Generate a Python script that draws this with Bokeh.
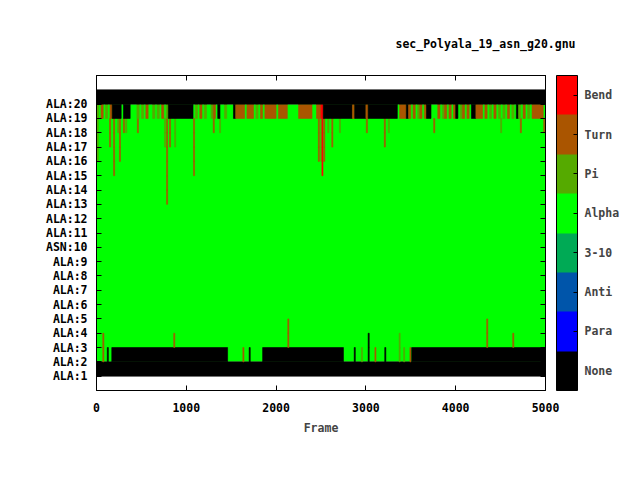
import numpy as np
from bokeh.plotting import figure
from bokeh.models import (ColumnDataSource, LinearColorMapper, ColorBar, FixedTicker,
                          LinearAxis, Range1d, CustomLabelingPolicy)
from bokeh.embed import file_html
from bokeh.resources import INLINE

# ---------------- data ----------------
residues = ["ALA:1", "ALA:2", "ALA:3", "ALA:4", "ALA:5", "ALA:6", "ALA:7", "ALA:8", "ALA:9",
            "ASN:10", "ALA:11", "ALA:12", "ALA:13", "ALA:14", "ALA:15", "ALA:16", "ALA:17",
            "ALA:18", "ALA:19", "ALA:20"]
state_names = ["None", "Para", "Anti", "3-10", "Alpha", "Pi", "Turn", "Bend"]
state_colors = ["#000000", "#0000FF", "#0055AA", "#00AA55", "#00FF00", "#55AA00", "#AA5500", "#FF0000"]
code_map = {"N": 0, "A": 4, "P": 5, "T": 6, "B": 7}
x_ticks = [0, 1000, 2000, 3000, 4000, 5000]
n_frames = 5000

# residues that are always "None"
always_none = [1, 20]
# residue 2: frames in state None (rest Alpha)
row2_none_segments = [(170, 1460), (1850, 2750), (3510, 5000)]
# residue 19: state per 25-frame bin, read left to right
row19_pieces = ["PATAPAT", "NNNNANNN", "AAA", "PAPATAAPAPATAP", "NNNNNNNNNNN", "APATAPAAPTA",
                "N", "AAPAAAN", "TTTTAT", "TTAPATA", "TTTTTATTT", "TA", "AAAA", "TTTTTT", "AA",
                "TTB", "NNNNNNNNNNNNN", "T", "NNNNN", "T", "NNNNNNNNNNNNN",
                "ATTT", "NTATAPTAT", "NN", "AAATAPTA", "TATNAPTATA", "NNT", "TTA",
                "TAPATAPAPAT", "APANPATAPA", "TTTTTA"]
# short events: (frame, first residue, last residue, state)
events = [
    (8, 16, 18, "P"), (145, 17, 18, "T"), (190, 15, 18, "T"), (235, 18, 18, "P"),
    (255, 16, 18, "T"), (300, 18, 18, "T"), (325, 18, 18, "P"), (455, 18, 18, "T"),
    (757, 17, 18, "P"), (780, 13, 18, "T"), (813, 17, 18, "T"), (870, 17, 18, "P"),
    (1080, 15, 18, "T"), (1300, 18, 18, "T"), (1370, 18, 18, "P"),
    (2470, 16, 18, "T"), (2495, 16, 18, "P"), (2510, 15, 18, "B"), (2530, 16, 18, "T"),
    (2575, 18, 18, "P"), (2620, 17, 18, "T"), (2705, 18, 18, "P"), (3005, 18, 18, "T"),
    (3205, 17, 18, "T"), (3250, 18, 18, "P"), (3755, 18, 18, "T"), (4500, 18, 18, "P"),
    (4720, 18, 18, "T"), (4980, 18, 18, "T"),
    (70, 2, 3, "T"), (860, 3, 3, "T"), (2130, 3, 4, "T"), (3025, 2, 3, "N"),
    (3370, 2, 3, "P"), (4345, 3, 4, "T"), (4635, 3, 3, "T"),
    (120, 2, 2, "N"), (1630, 2, 2, "T"), (1700, 2, 2, "N"), (2870, 2, 2, "N"),
    (2950, 2, 2, "P"), (3100, 2, 2, "T"), (3210, 2, 2, "N"), (3420, 2, 2, "P"),
    (3490, 2, 2, "T"),
]
event_width = 12

# ---------------- build grid ----------------
grid = np.full((len(residues), n_frames), 4, dtype=int)
for r in always_none:
    grid[r - 1, :] = 0
for s, e in row2_none_segments:
    grid[1, s:e] = 0
row19 = "".join(row19_pieces)
bin_w = n_frames / len(row19)
for i, c in enumerate(row19):
    grid[18, int(round(i * bin_w)):int(round((i + 1) * bin_w))] = code_map[c]
for f, r0, r1, c in events:
    grid[r0 - 1:r1, f:f + event_width] = code_map[c]

left, right, bottom, top, color = [], [], [], [], []
for r in range(grid.shape[0]):
    row = grid[r]
    start = 0
    for j in range(1, n_frames + 1):
        if j == n_frames or row[j] != row[start]:
            if row[start] != 4:
                left.append(start)
                right.append(j)
                bottom.append(r + 1)
                top.append(r + 2)
                color.append(state_colors[row[start]])
            start = j

src = ColumnDataSource(dict(left=left, right=right, bottom=bottom, top=top, color=color))

FONT = "DejaVu Sans Mono"
FS = "11.5px"

p = figure(output_backend="svg", toolbar_location=None,
           frame_width=449, frame_height=315,
           min_border_left=96, min_border_top=75, min_border_bottom=82, min_border_right=10,
           x_range=Range1d(0, 5000), y_range=Range1d(0, 22))
p.background_fill_color = "white"
p.border_fill_color = "white"
p.outline_line_color = "black"
p.xgrid.visible = False
p.ygrid.visible = False

p.title.text = "sec_Polyala_19_asn_g20.gnu"
p.title.align = "right"
p.title.offset = -30
p.title.standoff = 18
p.title.text_font = FONT
p.title.text_font_size = FS
p.title.text_font_style = "bold"
p.title.text_color = "black"

# base Alpha block for the inner residues, then other states on top
p.quad(left=[0], right=[n_frames], bottom=[2], top=[len(residues)],
       fill_color=state_colors[4], line_color=None)
p.quad(left="left", right="right", bottom="bottom", top="top", fill_color="color",
       line_color="color", line_width=0.6, source=src)

for ax in (p.xaxis[0], p.yaxis[0]):
    ax.major_tick_in = 5
    ax.major_tick_out = 0
    ax.minor_tick_line_color = None
    ax.axis_line_color = "black"
    ax.major_label_text_font = FONT
    ax.major_label_text_font_size = FS
    ax.major_label_text_font_style = "bold"
    ax.major_label_text_color = "black"

p.xaxis.ticker = FixedTicker(ticks=x_ticks)
p.xaxis.major_label_standoff = 12
p.xaxis.axis_label = "Frame"
p.xaxis.axis_label_text_font = FONT
p.xaxis.axis_label_text_font_size = FS
p.xaxis.axis_label_text_font_style = "bold"
p.xaxis.axis_label_standoff = 6

p.yaxis.ticker = FixedTicker(ticks=list(range(1, len(residues) + 1)))
p.yaxis.major_label_overrides = {i + 1: name for i, name in enumerate(residues)}
p.yaxis.major_label_standoff = 9

no_labels = CustomLabelingPolicy(code="return new Set()")
top_ax = LinearAxis(ticker=FixedTicker(ticks=x_ticks), major_tick_in=5, major_tick_out=0,
                    minor_tick_line_color=None, major_label_policy=no_labels,
                    axis_line_color="black")
p.add_layout(top_ax, "above")
right_ax = LinearAxis(ticker=FixedTicker(ticks=list(range(1, len(residues) + 1))),
                      major_tick_in=5, major_tick_out=0, minor_tick_line_color=None,
                      major_label_policy=no_labels, axis_line_color="black")
p.add_layout(right_ax, "right")

mapper = LinearColorMapper(palette=state_colors, low=-0.5, high=7.5)
cb = ColorBar(color_mapper=mapper, ticker=FixedTicker(ticks=list(range(len(state_names)))),
              major_label_overrides={i: s for i, s in enumerate(state_names)},
              width=21, height=315, padding=0, margin=0, location=(-9, 0),
              bar_line_color="black", major_tick_line_color="black",
              major_tick_in=4, major_tick_out=0, label_standoff=7,
              major_label_text_font=FONT, major_label_text_font_size=FS,
              major_label_text_font_style="bold", border_line_color=None,
              background_fill_alpha=0)
p.add_layout(cb, "right")

open("out.html", "w").write(file_html(p, INLINE))
